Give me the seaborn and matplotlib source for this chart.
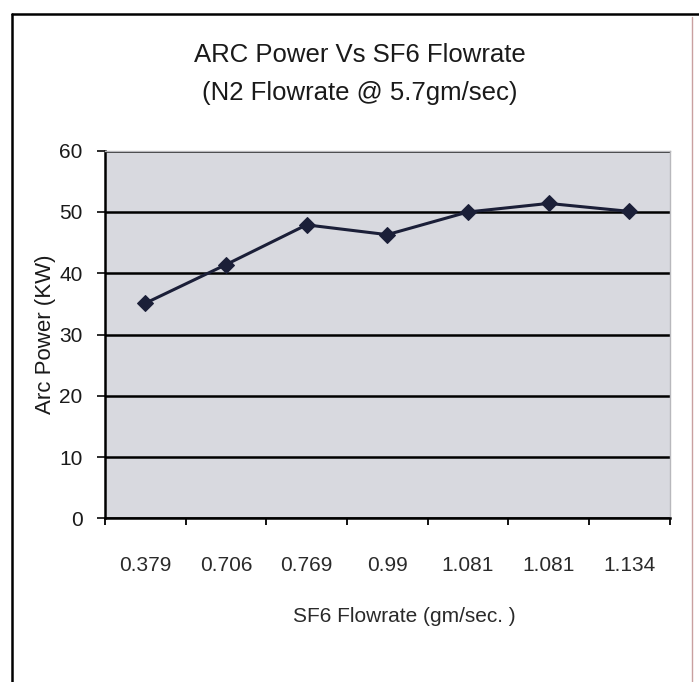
import numpy as np
import pandas as pd
import matplotlib
matplotlib.use("Agg")
import matplotlib.pyplot as plt
from matplotlib.lines import Line2D
from matplotlib.ticker import FixedLocator
import seaborn as sns

# SF6 flowrate samples (gm/sec) and measured arc power (KW)
flowrate_labels = ["0.379", "0.706", "0.769", "0.99", "1.081", "1.081", "1.134"]
arc_power = [35.1, 41.4, 47.9, 46.3, 50.0, 51.4, 50.1]
y_ticks = [0, 10, 20, 30, 40, 50, 60]

sns.set_theme(style="white")
plt.rcParams["font.family"] = ["Liberation Sans", "DejaVu Sans"]

df = pd.DataFrame({"idx": np.arange(len(arc_power)), "power": arc_power})

fig = plt.figure(figsize=(6.99, 6.82), dpi=100)
fig.patch.set_facecolor("white")
ax = fig.add_axes([0.150, 0.240, 0.808, 0.539])
ax.set_facecolor("#d8d9df")

sns.lineplot(data=df, x="idx", y="power", ax=ax, color="#1b1f38",
             linewidth=2.2, marker="D", markersize=8,
             markeredgecolor="#1b1f38", markerfacecolor="#1b1f38")

n = len(arc_power)
ax.set_xlim(-0.5, n - 0.5)
ax.set_ylim(0, 60)
ax.set_yticks(y_ticks)
ax.yaxis.grid(True, color="black", linewidth=1.8)
ax.set_axisbelow(True)

ax.set_xticks(np.arange(n))
ax.set_xticklabels(flowrate_labels)
ax.xaxis.set_minor_locator(FixedLocator(np.arange(n + 1) - 0.5))
ax.tick_params(axis="x", which="major", length=0, pad=27, labelsize=15,
               colors="#2a2a2a")
ax.tick_params(axis="x", which="minor", length=5, width=1.3,
               direction="out", color="black", bottom=True)
ax.tick_params(axis="y", length=6, width=1.3, direction="out", left=True,
               labelsize=15, colors="#1a1a1a", pad=10)

for side in ("top", "right"):
    ax.spines[side].set_visible(True)
    ax.spines[side].set_color("#b8b8bc")
    ax.spines[side].set_linewidth(1.0)
for side in ("left", "bottom"):
    ax.spines[side].set_color("black")
    ax.spines[side].set_linewidth(1.8)

ax.set_xlabel("SF6 Flowrate (gm/sec. )", fontsize=15, labelpad=20,
              color="#2a2a2a")
ax.xaxis.set_label_coords(0.53, -0.24)
ax.set_ylabel("Arc Power (KW)", fontsize=16, labelpad=2, color="#1a1a1a")

fig.text(0.515, 0.919, "ARC Power Vs SF6 Flowrate", ha="center",
         va="center", fontsize=18.5, color="#1a1a1a")
fig.text(0.515, 0.864, "(N2 Flowrate @ 5.7gm/sec)", ha="center",
         va="center", fontsize=18.5, color="#1a1a1a")

# chart frame edges
fig.add_artist(Line2D([0.017, 0.017], [0.0, 0.980], color="black",
                      linewidth=1.8, transform=fig.transFigure))
fig.add_artist(Line2D([0.017, 1.0], [0.980, 0.980], color="black",
                      linewidth=1.8, transform=fig.transFigure))
fig.add_artist(Line2D([0.990, 0.990], [0.0, 0.975], color="#c9a0a0",
                      linewidth=1.0, transform=fig.transFigure))

fig.savefig("out.png", dpi=100)
